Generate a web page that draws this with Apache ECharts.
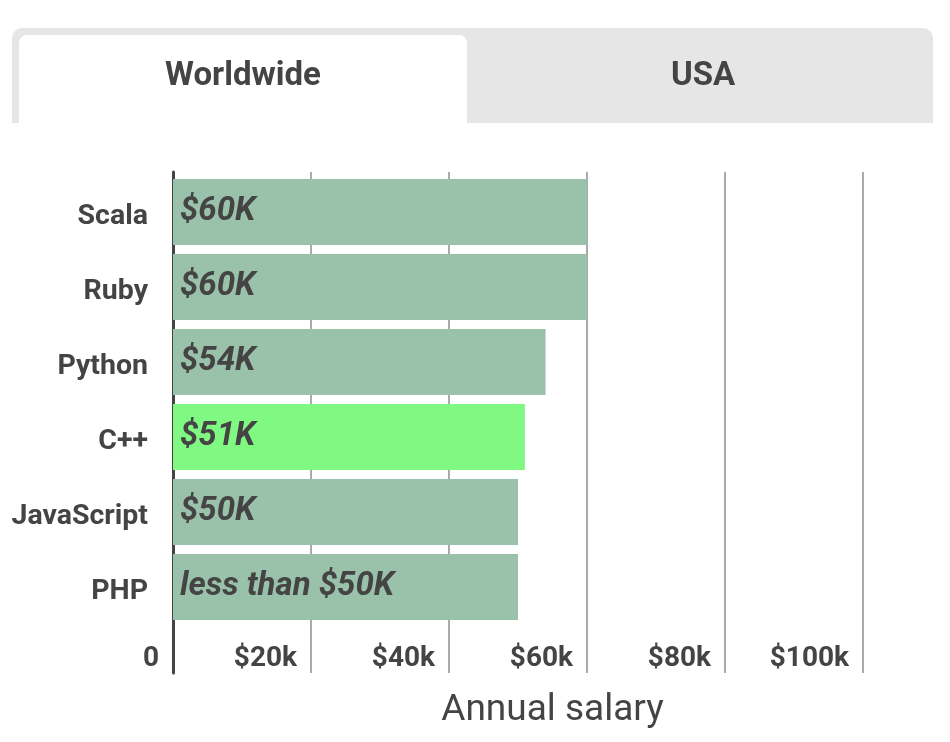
<!DOCTYPE html>
<html>
<head>
<meta charset="utf-8">
<script src="https://cdn.jsdelivr.net/npm/echarts@6/dist/echarts.min.js"></script>
<style>
html,body{margin:0;padding:0;background:#fff;}
#chart{width:950px;height:742px;}
</style>
</head>
<body>
<div id="chart"></div>
<script>
const categories = ['Scala', 'Ruby', 'Python', 'C++', 'JavaScript', 'PHP'];
const salaries = [60, 60, 54, 51, 50, 50];
const barLabels = ['$60K', '$60K', '$54K', '$51K', '$50K', 'less than $50K'];
const highlighted = 'C++';
const tabs = ['Worldwide', 'USA'];
const axisTitle = 'Annual salary';

const FONT = 'Roboto, "Noto Sans", sans-serif';
const TEXT = '#444444';

const chart = echarts.init(document.getElementById('chart'));
chart.setOption({
  animation: false,
  backgroundColor: '#ffffff',
  graphic: [
    { type: 'rect', shape: { x: 12, y: 28, width: 921, height: 95, r: [10, 10, 0, 0] }, style: { fill: '#e6e6e6' } },
    { type: 'rect', shape: { x: 19, y: 35, width: 448, height: 88, r: [8, 8, 0, 0] }, style: { fill: '#ffffff' } },
    { type: 'text', x: 243, y: 77, style: { text: tabs[0], fill: TEXT, font: 'bold 33px ' + FONT, align: 'center', verticalAlign: 'middle' } },
    { type: 'text', x: 703, y: 77, style: { text: tabs[1], fill: TEXT, font: 'bold 33px ' + FONT, align: 'center', verticalAlign: 'middle' } }
  ],
  grid: [
    { left: 173, right: 18, top: 172, bottom: 69 },
    { left: 173, right: 18, top: 174.5, bottom: 117.5 }
  ],
  xAxis: [
    {
      gridIndex: 0, type: 'value', min: 0, max: 110, interval: 20,
      axisLine: { show: false }, axisTick: { show: false },
      splitLine: { show: true, showMaxLine: false, lineStyle: { color: '#aaaaaa', width: 2 } },
      axisLabel: {
        inside: true, margin: 14, align: 'right', verticalAlign: 'middle', showMaxLabel: false,
        padding: [0, 14, 0, 0], color: TEXT, fontSize: 28, fontWeight: 'bold', fontFamily: FONT,
        formatter: v => (v === 0 ? '0' : '$' + v + 'k')
      },
      name: axisTitle, nameLocation: 'middle', nameGap: 38,
      nameTextStyle: { color: TEXT, fontSize: 37, fontFamily: FONT, verticalAlign: 'middle' }
    },
    {
      gridIndex: 1, type: 'value', min: 0, max: 110, interval: 20, show: false
    }
  ],
  yAxis: [
    {
      gridIndex: 0, type: 'value', min: 0, max: 1,
      axisLine: { show: true, lineStyle: { color: TEXT, width: 3 } },
      axisTick: { show: false }, axisLabel: { show: false }, splitLine: { show: false }
    },
    {
      gridIndex: 1, type: 'category', data: categories, inverse: true,
      axisLine: { show: false }, axisTick: { show: false },
      axisLabel: {
        margin: 25, color: TEXT, fontSize: 28.5, fontWeight: 'bold', fontFamily: FONT,
        formatter: v => '{l|' + v + '}',
        rich: { l: { color: TEXT, fontSize: 28.5, fontWeight: 'bold', fontFamily: FONT, lineHeight: 38, verticalAlign: 'bottom' } }
      }
    }
  ],
  series: [{
    type: 'bar', xAxisIndex: 1, yAxisIndex: 1, barWidth: 66,
    data: salaries.map((v, i) => ({
      value: v,
      itemStyle: { color: categories[i] === highlighted ? '#80f982' : '#9ac1a9' }
    })),
    label: {
      show: true, position: 'insideLeft', distance: 7,
      formatter: p => barLabels[p.dataIndex],
      color: TEXT, fontSize: 33, fontStyle: 'italic', fontWeight: 'bold', fontFamily: FONT
    }
  }]
});
</script>
</body>
</html>
